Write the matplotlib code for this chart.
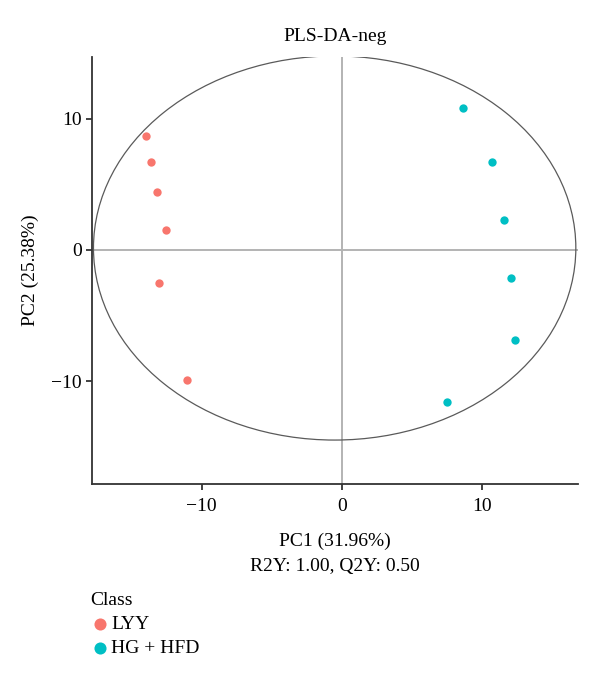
import numpy as np
import matplotlib
matplotlib.use("Agg")
import matplotlib.pyplot as plt
from matplotlib.patches import Ellipse

plt.rcParams['font.family'] = ['Liberation Serif', 'DejaVu Serif']

# scores
lyy_x = [-13.98, -13.60, -13.21, -12.55, -13.07, -11.05]
lyy_y = [8.68, 6.68, 4.42, 1.50, -2.54, -9.92]
hg_x = [8.65, 10.74, 11.57, 12.07, 12.38, 7.50]
hg_y = [10.81, 6.70, 2.31, -2.11, -6.85, -11.55]
classes = ["LYY", "HG + HFD"]
colors = ["#F8766D", "#00BFC4"]

# confidence ellipse (centre, full width / height in data units)
ell_center = (-0.5, 0.15)
ell_width = 34.45
ell_height = 29.25

fig = plt.figure(figsize=(6, 6.77), dpi=100)
ax = fig.add_axes([0.1538, 0.2851, 0.81, 0.6312])

ax.axhline(0, color="#b3b3b3", lw=1.4, zorder=1)
ax.axvline(0, color="#b3b3b3", lw=1.4, zorder=1)
ax.add_patch(Ellipse(ell_center, ell_width, ell_height, fill=False,
                     edgecolor="#5a5a5a", lw=0.9, zorder=2))

h1 = ax.scatter(lyy_x, lyy_y, s=36, color=colors[0], lw=0, zorder=3)
h2 = ax.scatter(hg_x, hg_y, s=36, color=colors[1], lw=0, zorder=3)

ax.set_xlim(-17.81, 16.9)
ax.set_ylim(-17.82, 14.72)
ax.set_xticks([-10, 0, 10])
ax.set_yticks([-10, 0, 10])
for s in ["top", "right"]:
    ax.spines[s].set_visible(False)
for s in ["left", "bottom"]:
    ax.spines[s].set_color("#333333")
    ax.spines[s].set_linewidth(1.3)
ax.tick_params(colors="#333333", labelcolor="black", labelsize=14,
               length=4, width=1.3)
ax.tick_params(axis="x", pad=6)

ax.set_title("PLS-DA-neg", fontsize=14, pad=11)
ax.set_xlabel("PC1 (31.96%)\nR2Y: 1.00, Q2Y: 0.50", fontsize=14,
              linespacing=1.6, labelpad=13)
ax.set_ylabel("PC2 (25.38%)", fontsize=14, labelpad=9)

leg = fig.legend([h1, h2], classes, title="Class", loc="upper left",
                 bbox_to_anchor=(0.137, 0.137), frameon=False,
                 fontsize=14, title_fontsize=14, handletextpad=0.1,
                 handlelength=1.0, labelspacing=0.32, borderaxespad=0,
                 markerscale=1.45)
leg._legend_box.align = "left"

fig.savefig("out.png", dpi=100)
